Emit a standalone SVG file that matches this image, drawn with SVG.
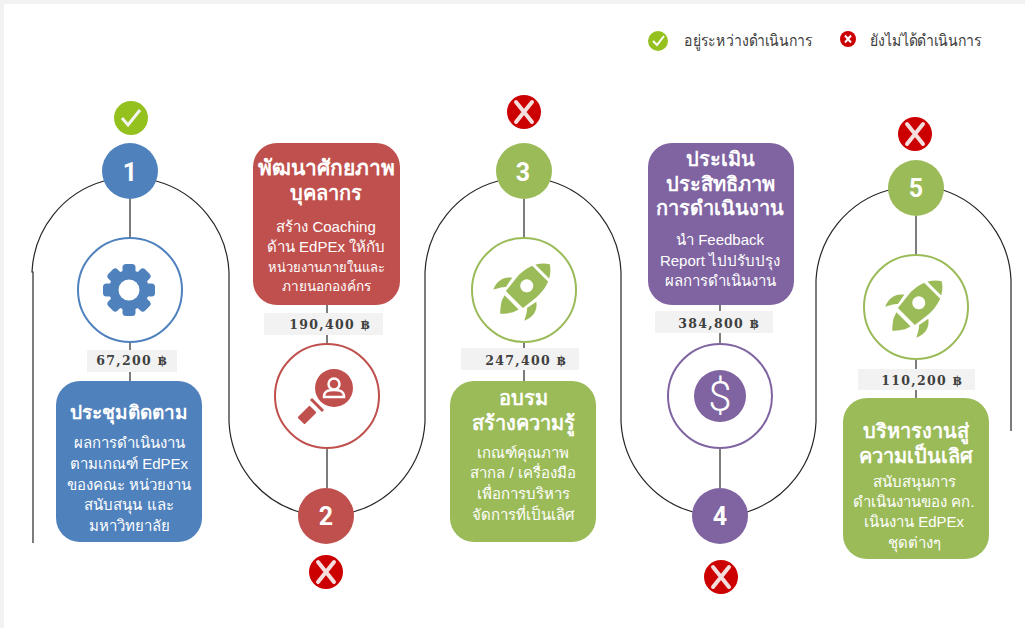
<svg xmlns="http://www.w3.org/2000/svg" width="1025" height="628" viewBox="0 0 1025 628">
<style>
text{font-family:"Liberation Sans","Roboto","Noto Sans",sans-serif;text-anchor:middle}
.c{fill:none;stroke:#262626;stroke-width:1.2}
.t{font-size:20px;font-weight:700;fill:#fff}
.b{font-size:15px;fill:#fff}
.n{font-family:"Roboto","Open Sans",sans-serif;font-size:25px;font-weight:700;fill:#fff}
.a{font-family:"DejaVu Serif",serif;font-size:12.500px;font-weight:700;fill:#404040;letter-spacing:1.300px}
.p{fill:#f2f2f2}
.r{fill:#fff;stroke-width:2}
.l{font-size:16px;fill:#404040}
.blue{fill:#4f81bd}.red{fill:#c0504d}.green{fill:#9bbb59}.purple{fill:#8064a2}
.sblue{stroke:#4f81bd}.sred{stroke:#c0504d}.sgreen{stroke:#9bbb59}.spurple{stroke:#8064a2}
</style>
<defs>
<g id="x"><circle r="17" fill="#cc0000"/><path d="M-8,-10 L8,10 M8,-10 L-8,10" stroke="#f4dede" stroke-width="4" stroke-linecap="round" fill="none"/></g>
<g id="rocket" fill="#9bbb59"><g transform="rotate(45)">
<path d="M0,-35 C11,-28 15,-15 14,-2 L12,15 L-12,15 L-14,-2 C-15,-15 -11,-28 0,-35 Z M-1,-10 a6.500,6.500 0 1 0 0.01,0 Z" fill-rule="evenodd"/>
<path d="M-16,-23 L16,-23" stroke="#fff" stroke-width="3"/>
<path d="M-10,19 L10,19 L8,25 C5,30 2,33 0,35 C-2,33 -5,30 -8,25 Z"/>
<path d="M-17,1 C-24,6 -26,14 -22,23 C-19,17 -17,14 -15,12 Z"/>
<path d="M17,1 C24,6 26,14 22,23 C19,17 17,14 15,12 Z"/>
</g></g>
</defs>
<rect width="1025" height="628" fill="#fff"/>
<rect width="1025" height="4" fill="#f2f2f2"/>
<rect width="4" height="628" fill="#f2f2f2"/>
<g id="connectors">
<path class="c" d="M104,181 A99,99 0 0 0 32,272 L33,272 L33,543"/>
<path class="c" d="M156,181 A99,99 0 0 1 229,272 L229,422 A99,99 0 0 0 299,512"/>
<path class="c" d="M353,512 A99,99 0 0 0 425,422 L425,272 A99,99 0 0 1 498,181"/>
<path class="c" d="M550,181 A99,99 0 0 1 621,272 L621,422 A99,99 0 0 0 693,512"/>
<path class="c" d="M747,512 A99,99 0 0 0 816,422 L816,280 A99,99 0 0 1 889,190"/>
<path class="c" d="M943,190 A99,99 0 0 1 1011,280 L1011,431"/>
<path class="c" d="M130,199 V381"/>
<path class="c" d="M327,305 V488"/>
<path class="c" d="M524,199 V381"/>
<path class="c" d="M720,305 V488"/>
<path class="c" d="M916,216 V398"/>
</g>
<g id="legend">
<circle cx="658" cy="41" r="10" fill="#95c11f"/><path d="M653,41 L657,45 L664,36" fill="none" stroke="#fff" stroke-width="2"/>
<text class="l" x="748.500" y="46" textLength="129" lengthAdjust="spacingAndGlyphs">อยู่ระหว่างดำเนินการ</text>
<circle cx="848" cy="39" r="8" fill="#cc0000"/><path d="M845,35.500 L851,42.500 M851,35.500 L845,42.500" stroke="#fff" stroke-width="2"/>
<text class="l" x="926" y="46" textLength="112" lengthAdjust="spacingAndGlyphs">ยังไม่ได้ดำเนินการ</text>
</g>
<g id="node1">
<circle cx="131" cy="118" r="17" fill="#95c11f"/><path d="M122,118 L128,125 L140,110" fill="none" stroke="#f4f4f4" stroke-width="3"/>
<circle class="blue" cx="130" cy="171" r="28"/><text class="n" x="130" y="181">1</text>
<circle class="r sblue" cx="130" cy="290" r="52"/>
<g transform="translate(129,290)" class="blue">
<rect x="-6.500" y="-26" width="13" height="52" rx="3.500"/><rect x="-6.500" y="-26" width="13" height="52" rx="3.500" transform="rotate(45)"/><rect x="-6.500" y="-26" width="13" height="52" rx="3.500" transform="rotate(90)"/><rect x="-6.500" y="-26" width="13" height="52" rx="3.500" transform="rotate(135)"/>
<circle r="20"/><circle r="10.500" fill="#fff"/></g>
<rect class="p" x="87" y="350" width="90" height="22"/><text class="a" x="132" y="365">67,200 ฿</text>
<rect class="blue" x="56" y="381" width="146" height="161" rx="24"/>
<text class="t" x="129" y="419" style="font-size:19px">ประชุมติดตาม</text>
<text class="b" x="129" y="448">ผลการดำเนินงาน</text><text class="b" x="129" y="469">ตามเกณฑ์ EdPEx</text><text class="b" x="129" y="490">ของคณะ หน่วยงาน</text><text class="b" x="129" y="510">สนับสนุน และ</text><text class="b" x="129" y="531">มหาวิทยาลัย</text>
</g>
<g id="node2">
<rect class="red" x="253" y="143" width="147" height="162" rx="24"/>
<text class="t" x="326" y="175" style="font-size:21px">พัฒนาศักยภาพ</text><text class="t" x="326" y="200">บุคลากร</text>
<text class="b" x="326" y="232">สร้าง Coaching</text><text class="b" x="326" y="252">ด้าน EdPEx ให้กับ</text><text class="b" x="326" y="272" style="font-size:13px">หน่วยงานภายในและ</text><text class="b" x="326" y="291" style="font-size:13.600px">ภายนอกองค์กร</text>
<rect class="p" x="264" y="313" width="119" height="22"/><text class="a" x="330" y="329">190,400 ฿</text>
<circle class="r sred" cx="327" cy="396" r="52"/>
<g class="red"><circle cx="334" cy="388" r="19"/>
<rect x="-8.500" y="-1.500" width="17" height="3" transform="translate(317,405) rotate(45)"/>
<rect x="-5" y="-8.500" width="10" height="17" rx="1" transform="translate(307,415) rotate(45)"/></g>
<circle cx="334" cy="384" r="5.500" fill="none" stroke="#fff" stroke-width="2.500"/>
<path d="M324,397 C324,390 330,390 334,390 C338,390 344,390 344,397 Z" fill="none" stroke="#fff" stroke-width="2.500"/>
<circle class="red" cx="326" cy="516" r="28"/><text class="n" x="326" y="525">2</text>
<use href="#x" x="326" y="572"/>
</g>
<g id="node3">
<use href="#x" x="524" y="112"/>
<circle class="green" cx="524" cy="171" r="28"/><text class="n" x="523" y="181">3</text>
<circle class="r sgreen" cx="524" cy="290" r="52"/>
<use href="#rocket" x="525" y="289"/>
<rect class="p" x="461" y="348" width="118" height="22"/><text class="a" x="526" y="365">247,400 ฿</text>
<rect class="green" x="450" y="381" width="146" height="161" rx="24"/>
<text class="t" x="523" y="405">อบรม</text><text class="t" x="523" y="430">สร้างความรู้</text>
<text class="b" x="523" y="458">เกณฑ์คุณภาพ</text><text class="b" x="523" y="478">สากล / เครื่องมือ</text><text class="b" x="523" y="499">เพื่อการบริหาร</text><text class="b" x="523" y="520">จัดการที่เป็นเลิศ</text>
</g>
<g id="node4">
<rect class="purple" x="648" y="143" width="146" height="162" rx="24"/>
<text class="t" x="720" y="166">ประเมิน</text><text class="t" x="720" y="191">ประสิทธิภาพ</text><text class="t" x="720" y="215">การดำเนินงาน</text>
<text class="b" x="720" y="245">นำ Feedback</text><text class="b" x="720" y="266">Report ไปปรับปรุง</text><text class="b" x="720" y="286">ผลการดำเนินงาน</text>
<rect class="p" x="655" y="311" width="118" height="22"/><text class="a" x="719" y="328">384,800 ฿</text>
<circle class="r spurple" cx="720" cy="396" r="52"/>
<circle class="purple" cx="720" cy="396" r="26"/><text x="720" y="411" font-size="42" font-weight="300" fill="#fff" style="font-family:Roboto,sans-serif">$</text>
<circle class="purple" cx="720" cy="516" r="28"/><text class="n" x="720" y="525">4</text>
<use href="#x" x="721" y="577"/>
</g>
<g id="node5">
<use href="#x" x="915" y="134"/>
<circle class="green" cx="916" cy="188" r="28"/><text class="n" x="916" y="197">5</text>
<circle class="r sgreen" cx="916" cy="307" r="52"/>
<use href="#rocket" x="917" y="306"/>
<rect class="p" x="858" y="369" width="117" height="21"/><text class="a" x="922" y="385">110,200 ฿</text>
<rect class="green" x="843" y="398" width="146" height="161" rx="24"/>
<text class="t" x="916" y="438">บริหารงานสู่</text><text class="t" x="916" y="463">ความเป็นเลิศ</text>
<text class="b" x="914" y="487">สนับสนุนการ</text><text class="b" x="914" y="507">ดำเนินงานของ คก.</text><text class="b" x="914" y="527">เนินงาน EdPEx</text><text class="b" x="914" y="548">ชุดต่างๆ</text>
</g>
</svg>
